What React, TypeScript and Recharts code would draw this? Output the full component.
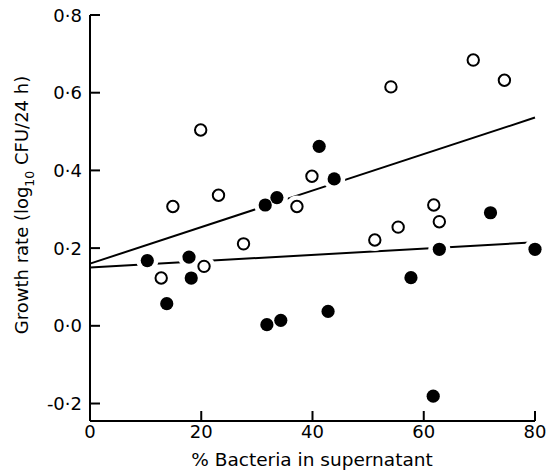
import { ScatterChart, Scatter, XAxis, YAxis, Label } from 'recharts';

// open circles
const openX = [19.9, 54.1, 68.9, 74.5, 39.9, 23.1, 14.9, 37.2, 27.6, 20.5, 12.8, 51.2, 55.4, 61.8, 62.8];
const openY = [0.504, 0.615, 0.684, 0.632, 0.385, 0.336, 0.307, 0.307, 0.211, 0.153, 0.123, 0.221, 0.254, 0.311, 0.268];

// filled circles
const filledX = [41.2, 43.9, 33.6, 31.5, 10.3, 17.8, 18.2, 13.8, 31.8, 34.3, 42.8, 57.7, 62.8, 72.0, 80.0, 61.7];
const filledY = [0.462, 0.378, 0.33, 0.311, 0.168, 0.177, 0.123, 0.057, 0.003, 0.014, 0.037, 0.124, 0.197, 0.291, 0.197, -0.181];

// fitted lines
const fitX = [0, 80];
const upperFitY = [0.16, 0.536];
const lowerFitY = [0.15, 0.215];

const xTicks = [0, 20, 40, 60, 80];
const yTicks = [-0.2, 0, 0.2, 0.4, 0.6, 0.8];

const FONT = '"DejaVu Sans", sans-serif';

const zip = (xs: number[], ys: number[]) => xs.map((x, i) => ({ x, y: ys[i] }));
const openPts = zip(openX, openY);
const filledPts = zip(filledX, filledY);
const allPts = [...openPts, ...filledPts];
const upperFit = zip(fitX, upperFitY);
const lowerFit = zip(fitX, lowerFitY);

const fmt = (v: number) => v.toFixed(1).replace('.', '·');

function YTick({ x, y, payload }: any) {
  return (
    <g>
      <line x1={x} x2={x + 10} y1={y} y2={y} stroke="#000" strokeWidth={2} />
      <text x={x - 8} y={y} dy={6.5} textAnchor="end" fontSize={18} fontFamily={FONT} fill="#000">
        {fmt(payload.value)}
      </text>
    </g>
  );
}

function XTick({ x, y, payload }: any) {
  return (
    <g>
      <line x1={x} x2={x} y1={y} y2={y - 10} stroke="#000" strokeWidth={2} />
      <text x={x} y={y + 17} textAnchor="middle" fontSize={18} fontFamily={FONT} fill="#000">
        {payload.value}
      </text>
    </g>
  );
}

export default function App() {
  return (
    <div style={{ width: 546, height: 470, background: '#fff' }}>
      <style>{'body{margin:0}'}</style>
      <ScatterChart width={546} height={470} margin={{ top: 15, right: 11, bottom: 0, left: 0 }}>
        <XAxis
          type="number"
          dataKey="x"
          domain={[0, 80]}
          ticks={xTicks}
          height={49}
          tickSize={0}
          tickMargin={0}
          tickLine={false}
          tick={<XTick />}
          axisLine={{ stroke: '#000', strokeWidth: 2 }}
        >
          <Label
            content={() => (
              <text x={312} y={466} textAnchor="middle" fontSize={18.5} fontFamily={FONT} fill="#000">
                % Bacteria in supernatant
              </text>
            )}
          />
        </XAxis>
        <YAxis
          type="number"
          dataKey="y"
          domain={[-0.245, 0.8]}
          ticks={yTicks}
          width={90}
          tickSize={0}
          tickMargin={0}
          tickLine={false}
          tick={<YTick />}
          axisLine={{ stroke: '#000', strokeWidth: 2 }}
          allowDataOverflow
        >
          <Label
            content={() => (
              <text
                x={0}
                y={0}
                transform="translate(28,205) rotate(-90)"
                textAnchor="middle"
                fontSize={18}
                fontFamily={FONT}
                fill="#000"
              >
                Growth rate (log
                <tspan dy={6} fontSize={12.5}>10</tspan>
                <tspan dy={-6}> CFU/24 h)</tspan>
              </text>
            )}
          />
        </YAxis>
        <Scatter
          data={upperFit}
          line={{ stroke: '#000', strokeWidth: 2 }}
          shape={() => <g />}
          isAnimationActive={false}
        />
        <Scatter
          data={lowerFit}
          line={{ stroke: '#000', strokeWidth: 2 }}
          shape={() => <g />}
          isAnimationActive={false}
        />
        {/* white halos break the fitted lines around the points */}
        <Scatter
          data={allPts}
          shape={(p: any) => <circle cx={p.cx} cy={p.cy} r={11} fill="#fff" />}
          isAnimationActive={false}
        />
        <Scatter
          data={openPts}
          shape={(p: any) => <circle cx={p.cx} cy={p.cy} r={5.7} fill="#fff" stroke="#000" strokeWidth={2} />}
          isAnimationActive={false}
        />
        <Scatter
          data={filledPts}
          shape={(p: any) => <circle cx={p.cx} cy={p.cy} r={6.6} fill="#000" />}
          isAnimationActive={false}
        />
      </ScatterChart>
    </div>
  );
}
